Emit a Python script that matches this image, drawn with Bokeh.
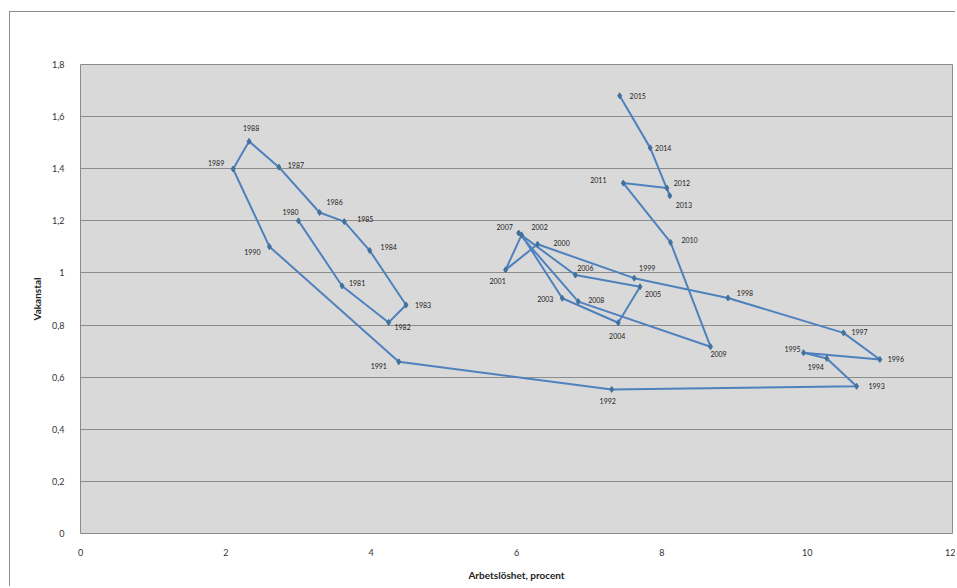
from bokeh.plotting import figure
from bokeh.models import ColumnDataSource, Range1d, FixedTicker
from bokeh.core.properties import value
from bokeh.embed import file_html
from bokeh.resources import INLINE

# ---- data ----
years = list(range(1980, 2016))
unemployment = [3.00, 3.60, 4.24, 4.48, 3.98, 3.63, 3.29, 2.73, 2.32, 2.10,
                2.60, 4.38, 7.31, 10.68, 10.27, 9.95, 11.00, 10.50, 8.91, 7.62,
                6.29, 5.85, 6.07, 6.63, 7.40, 7.70, 6.81, 6.03, 6.85, 8.67,
                8.12, 7.47, 8.07, 8.11, 7.84, 7.42]
vacancy = [1.200, 0.950, 0.810, 0.877, 1.086, 1.197, 1.232, 1.406, 1.505, 1.399,
           1.101, 0.659, 0.553, 0.565, 0.672, 0.694, 0.668, 0.770, 0.904, 0.980,
           1.110, 1.012, 1.146, 0.903, 0.809, 0.947, 0.992, 1.153, 0.890, 0.717,
           1.117, 1.345, 1.326, 1.296, 1.480, 1.680]
x_ticks = [0, 2, 4, 6, 8, 10, 12]
y_ticks = [0, 0.2, 0.4, 0.6, 0.8, 1.0, 1.2, 1.4, 1.6, 1.8]
y_tick_labels = ["0", "0,2", "0,4", "0,6", "0,8", "1", "1,2", "1,4", "1,6", "1,8"]

# label placement (screen px offsets from each point; +dy = down)
label_dx = [-8, 15, 14, 17, 19, 21, 15, 17, 2, -17,
            -17, -20, -4, 20, -11, -11, 16, 16, 17, 13,
            24, -8, 18, -17, -1, 13, 10, -14, 18, 8,
            19, -25, 15, 14, 13, 18]
label_dy = [-9, -3, 5, 0, -4, -3, -10, -2, -13, -6,
            5, 4, 12, 0, 9, -4, 0, -1, -5, -10,
            -1, 11, -8, 1, 13, 7, -7, -6, -2, 7,
            -2, -3, -5, 9, 0, 0]

src = ColumnDataSource(dict(
    x=unemployment, y=vacancy, lab=[str(yv) for yv in years],
    dx=label_dx, dy=label_dy))

FONT = "Lato"

p = figure(width=946, height=575, output_backend="svg", toolbar_location=None,
           x_range=Range1d(0, 12), y_range=Range1d(0, 1.8),
           min_border_left=70, min_border_right=4,
           min_border_top=52, min_border_bottom=54,
           background_fill_color="#d9d9d9", border_fill_color="white",
           outline_line_color="#8c8c8c", outline_line_width=1)
p.styles = {"border-left": "1px solid #8c8c8c", "border-top": "1px solid #8c8c8c",
            "margin-left": "9px", "margin-top": "11px"}

p.line("x", "y", source=src, line_color="#4f81bd", line_width=2)
p.scatter("x", "y", source=src, marker="diamond", size=6,
          fill_color="#41719c", line_color="#41719c")
p.text("x", "y", text="lab", source=src, x_offset="dx", y_offset="dy",
       text_font=value(FONT), text_font_size="7px", text_color="#222222",
       text_align="center", text_baseline="middle")

# grid
p.xgrid.grid_line_color = None
p.ygrid.grid_line_color = "#8c8c8c"
p.ygrid.grid_line_width = 1
p.ygrid.ticker = FixedTicker(ticks=y_ticks)

# axes
p.xaxis.ticker = FixedTicker(ticks=x_ticks)
p.yaxis.ticker = FixedTicker(ticks=y_ticks)
p.yaxis.major_label_overrides = {t: l for t, l in zip(y_ticks, y_tick_labels)}
for ax in (p.xaxis[0], p.yaxis[0]):
    ax.axis_line_color = None
    ax.major_tick_line_color = None
    ax.minor_tick_line_color = None
    ax.major_label_text_font = FONT
    ax.major_label_text_font_size = "9px"
    ax.major_label_text_color = "#333333"
    ax.axis_label_text_font = FONT
    ax.axis_label_text_font_size = "10px"
    ax.axis_label_text_font_style = "bold"
    ax.axis_label_text_color = "#222222"

p.xaxis.axis_label = "Arbetslöshet, procent"
p.yaxis.axis_label = "Vakanstal"
p.xaxis.major_label_standoff = 9
p.yaxis.major_label_standoff = 10
p.xaxis.axis_label_standoff = 10
p.yaxis.axis_label_standoff = 6

open("out.html", "w").write(file_html(p, INLINE))
